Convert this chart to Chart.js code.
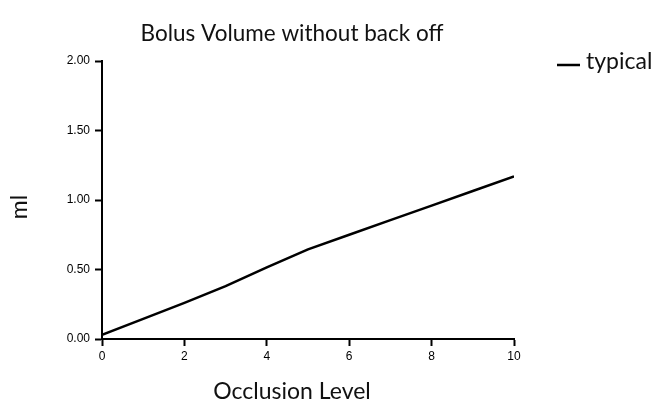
<!DOCTYPE html>
<html>
<head>
<meta charset="utf-8">
<script src="https://cdn.jsdelivr.net/npm/chart.js@4/dist/chart.umd.min.js"></script>
<style>
  html, body { margin: 0; padding: 0; background: #fff; }
  #wrap { width: 656px; height: 402px; }
</style>
</head>
<body>
<div id="wrap"><canvas id="bolusChart" width="656" height="402"></canvas></div>
<script>
// occlusion level vs. delivered bolus volume (ml)
const occlusionLevels = [0, 1, 2, 3, 4, 5, 6, 7, 8, 9, 10];
const typicalVolume = [0.03, 0.145, 0.26, 0.38, 0.515, 0.645, 0.75, 0.855, 0.96, 1.065, 1.17];
const seriesLabel = 'typical';
const chartTitle = 'Bolus Volume without back off';
const xTitle = 'Occlusion Level';
const yTitle = 'ml';

const TEXT_FONT = 'Lato, "Open Sans", sans-serif';
const TICK_FONT = '"Liberation Sans", Arial, sans-serif';

// title, axis captions and the one-line legend are painted here
const captions = {
    id: 'captions',
    afterDraw(chart) {
        const ctx = chart.ctx;
        ctx.save();
        ctx.fillStyle = '#111';
        ctx.textBaseline = 'alphabetic';
        ctx.textAlign = 'center';
        ctx.font = '22.5px ' + TEXT_FONT;
        ctx.fillText(chartTitle, 292, 41);
        ctx.font = '23px ' + TEXT_FONT;
        ctx.fillText(xTitle, 292, 399);

        ctx.save();
        ctx.translate(27, 207);
        ctx.rotate(-Math.PI / 2);
        ctx.fillText(yTitle, 0, 0);
        ctx.restore();

        // legend
        ctx.strokeStyle = '#000';
        ctx.lineWidth = 2.5;
        ctx.beginPath();
        ctx.moveTo(557, 65);
        ctx.lineTo(580, 65);
        ctx.stroke();
        ctx.textAlign = 'left';
        ctx.fillText(chart.data.datasets[0].label, 586, 69);
        ctx.restore();
    }
};

new Chart(document.getElementById('bolusChart'), {
    type: 'line',
    data: {
        datasets: [{
            label: seriesLabel,
            data: occlusionLevels.map((x, i) => ({ x, y: typicalVolume[i] })),
            borderColor: '#000',
            backgroundColor: '#000',
            borderWidth: 2.5,
            pointRadius: 0,
            tension: 0
        }]
    },
    options: {
        responsive: false,
        animation: false,
        layout: { padding: { left: 0, top: 61, right: 142, bottom: 0 } },
        plugins: {
            legend: { display: false },
            title: { display: false },
            tooltip: { enabled: false }
        },
        scales: {
            x: {
                type: 'linear',
                min: 0,
                max: 10,
                afterFit(scale) { scale.height = 63; },
                border: { color: '#000', width: 2 },
                grid: { drawOnChartArea: false, drawTicks: true, tickLength: 7, tickWidth: 2, tickColor: '#000' },
                ticks: { stepSize: 2, padding: 3, color: '#000', font: { family: TICK_FONT, size: 12 } }
            },
            y: {
                min: 0,
                max: 2,
                afterFit(scale) { scale.width = 102; },
                border: { color: '#000', width: 2 },
                grid: { drawOnChartArea: false, drawTicks: true, tickLength: 7, tickWidth: 2, tickColor: '#000' },
                ticks: {
                    stepSize: 0.5,
                    padding: 5,
                    color: '#000',
                    font: { family: TICK_FONT, size: 12 },
                    callback: (v) => v.toFixed(2)
                }
            }
        }
    },
    plugins: [captions]
});
</script>
</body>
</html>
